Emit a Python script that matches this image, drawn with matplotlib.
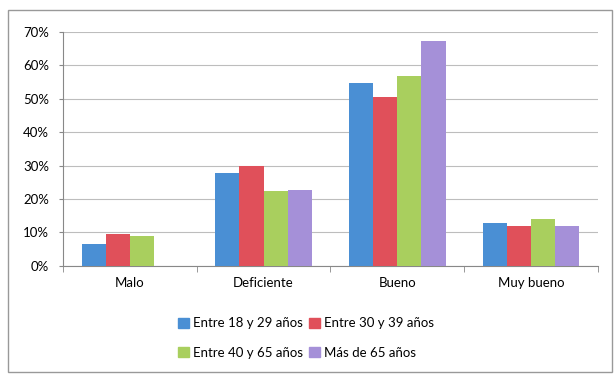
import numpy as np
import matplotlib.pyplot as plt
from matplotlib.patches import Rectangle, Patch
from matplotlib.ticker import PercentFormatter

plt.rcParams['font.family'] = ['Liberation Sans Narrow', 'Lato', 'DejaVu Sans']

categorias = ['Malo', 'Deficiente', 'Bueno', 'Muy bueno']
series = ['Entre 18 y 29 años', 'Entre 30 y 39 años', 'Entre 40 y 65 años', 'Más de 65 años']
v_18_29 = [0.065, 0.278, 0.546, 0.127]
v_30_39 = [0.094, 0.299, 0.506, 0.120]
v_40_65 = [0.088, 0.224, 0.567, 0.140]
v_65_mas = [np.nan, 0.226, 0.674, 0.120]
colores = ['#4a8fd4', '#e0505a', '#a9cf5e', '#a590d8']

fig = plt.figure(figsize=(6.16, 3.76), dpi=100)
ax = fig.add_axes([0.102, 0.293, 0.869, 0.622])

x = np.arange(len(categorias))
w = 0.18
valores = [v_18_29, v_30_39, v_40_65, v_65_mas]
for i, vals in enumerate(valores):
    ax.bar(x + (i - 1.5) * w, vals, w, color=colores[i], zorder=3)

ax.set_xlim(-0.5, 3.5)
ax.set_ylim(0, 0.7)
ax.set_yticks(np.arange(0, 0.71, 0.1))
ax.yaxis.set_major_formatter(PercentFormatter(1.0, decimals=0))
ax.yaxis.grid(True, color='#bdbdbd', linewidth=0.8, zorder=0)
ax.set_xticks(x)
ax.set_xticklabels(categorias, fontsize=9.5)
ax.set_xticks(np.arange(-0.5, 3.6, 1), minor=True)
ax.tick_params(axis='x', which='major', length=0, pad=8)
ax.tick_params(axis='x', which='minor', length=4, color='#888888')
ax.tick_params(axis='y', length=3, color='#888888', labelsize=9.5, pad=7)
for s in ['top', 'right']:
    ax.spines[s].set_visible(False)
for s in ['left', 'bottom']:
    ax.spines[s].set_color('#888888')

# marco exterior
fig.patches.append(Rectangle((0.013, 0.01), 0.98, 0.963, transform=fig.transFigure,
                             fill=False, edgecolor='#999999', linewidth=1))

h = [Patch(color=c) for c in colores]
fig.legend(h[:2], series[:2], ncol=2, loc='center left', bbox_to_anchor=(0.27, 0.14),
           frameon=False, fontsize=9.5, handlelength=0.8, handleheight=0.8,
           handletextpad=0.3, columnspacing=0.5)
fig.legend(h[2:], series[2:], ncol=2, loc='center left', bbox_to_anchor=(0.27, 0.062),
           frameon=False, fontsize=9.5, handlelength=0.8, handleheight=0.8,
           handletextpad=0.3, columnspacing=0.5)

fig.savefig('out.png', dpi=100)
